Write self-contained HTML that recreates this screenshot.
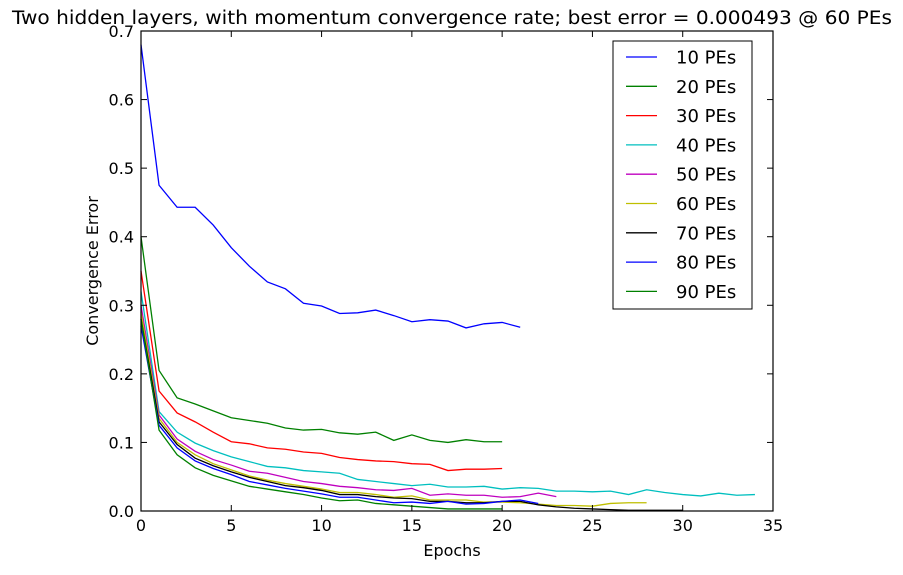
<!DOCTYPE html>
<html><head><meta charset="utf-8"><style>
body{margin:0;background:#fff}
svg text{font-family:"DejaVu Sans","Liberation Sans",sans-serif}
</style></head><body>
<svg id="chart" width="903" height="570" xmlns="http://www.w3.org/2000/svg">
<rect width="903" height="570" fill="#fff"/>
<text x="452" y="24" text-anchor="middle" font-size="18.5" textLength="880" lengthAdjust="spacingAndGlyphs">Two hidden layers, with momentum convergence rate; best error = 0.000493 @ 60 PEs</text>
<g id="plot"></g>
<text x="452" y="556" text-anchor="middle" font-size="16">Epochs</text>
<text transform="translate(98,271) rotate(-90)" text-anchor="middle" font-size="16">Convergence Error</text>
</svg>
<script>
const seriesNames=["10 PEs","20 PEs","30 PEs","40 PEs","50 PEs","60 PEs","70 PEs","80 PEs","90 PEs"];
const seriesColors=["#0000ff","#008000","#ff0000","#00bfbf","#bf00bf","#bfbf00","#000000","#0000ff","#008000"];
const s10=[0.68,0.475,0.443,0.443,0.417,0.384,0.357,0.334,0.324,0.303,0.299,0.288,0.289,0.293,0.285,0.276,0.279,0.277,0.267,0.273,0.275,0.268];
const s20=[0.40,0.205,0.165,0.156,0.146,0.136,0.132,0.128,0.121,0.118,0.119,0.114,0.112,0.115,0.103,0.111,0.103,0.100,0.104,0.101,0.101];
const s30=[0.35,0.175,0.143,0.130,0.115,0.101,0.098,0.092,0.090,0.086,0.084,0.078,0.075,0.073,0.072,0.069,0.068,0.059,0.061,0.061,0.062];
const s40=[0.32,0.145,0.115,0.099,0.088,0.079,0.072,0.065,0.063,0.059,0.057,0.055,0.046,0.043,0.040,0.037,0.039,0.035,0.035,0.036,0.032,0.034,0.033,0.029,0.029,0.028,0.029,0.024,0.031,0.027,0.024,0.022,0.026,0.023,0.024];
const s50=[0.30,0.14,0.105,0.087,0.075,0.067,0.058,0.055,0.049,0.043,0.040,0.036,0.034,0.031,0.030,0.033,0.023,0.025,0.023,0.023,0.020,0.021,0.026,0.021];
const s60=[0.29,0.135,0.100,0.082,0.069,0.060,0.051,0.045,0.040,0.036,0.032,0.027,0.027,0.024,0.020,0.022,0.016,0.016,0.016,0.013,0.013,0.012,0.010,0.008,0.008,0.007,0.011,0.012,0.012];
const s70=[0.28,0.13,0.097,0.077,0.066,0.057,0.049,0.043,0.037,0.034,0.030,0.024,0.024,0.021,0.019,0.018,0.014,0.014,0.012,0.012,0.014,0.014,0.009,0.006,0.004,0.003,0.002,0.001,0.001,0.001,0.001];
const s80=[0.27,0.125,0.092,0.073,0.062,0.053,0.043,0.038,0.033,0.029,0.025,0.020,0.020,0.016,0.012,0.013,0.011,0.014,0.010,0.011,0.014,0.016,0.011];
const s90=[0.28,0.118,0.082,0.063,0.052,0.044,0.036,0.032,0.028,0.024,0.019,0.015,0.016,0.011,0.009,0.007,0.005,0.003,0.003,0.003,0.003];
const xTicks=[0,5,10,15,20,25,30,35];
const yTicks=[0.0,0.1,0.2,0.3,0.4,0.5,0.6,0.7];
const allSeries=[s10,s20,s30,s40,s50,s60,s70,s80,s90];
const X0=141,X1=773,Y0=511,Y1=31;
const xs=v=>X0+(v-0)/(35-0)*(X1-X0);
const ys=v=>Y0-(v-0)/(0.7-0)*(Y0-Y1);
const NS="http://www.w3.org/2000/svg";
const g=document.getElementById('plot');
function mk(t,a){const e=document.createElementNS(NS,t);for(const k in a)e.setAttribute(k,a[k]);g.appendChild(e);return e;}
allSeries.forEach((s,i)=>{
  const p=mk('polyline',{points:s.map((v,j)=>xs(j)+','+ys(v)).join(' '),fill:'none',stroke:seriesColors[i],'stroke-width':1.3});
  
  
});
const frame=mk('rect',{x:X0,y:Y1,width:X1-X0,height:Y0-Y1,fill:'none',stroke:'#000','stroke-width':1.2});


xTicks.forEach(t=>{
  const x=xs(t);
  mk('line',{x1:x,x2:x,y1:Y0,y2:Y0-6,stroke:'#000'});
  mk('line',{x1:x,x2:x,y1:Y1,y2:Y1+6,stroke:'#000'});
  const tx=mk('text',{x:x,y:Y0+20,'text-anchor':'middle','font-size':16});
  tx.textContent=t;
  
  
});
yTicks.forEach(t=>{
  const y=ys(t);
  mk('line',{x1:X0,x2:X0+6,y1:y,y2:y,stroke:'#000'});
  mk('line',{x1:X1,x2:X1-6,y1:y,y2:y,stroke:'#000'});
  const tx=mk('text',{x:X0-7,y:y+6,'text-anchor':'end','font-size':16});
  tx.textContent=t.toFixed(1);
  
  
});
const lb=mk('rect',{x:613,y:41,width:139,height:268,fill:'#fff',stroke:'#000','stroke-width':1});


seriesNames.forEach((n,i)=>{
  const y=57+i*29.3;
  const l=mk('line',{x1:626,x2:657,y1:y,y2:y,stroke:seriesColors[i],'stroke-width':1.3});
  
  
  const t=mk('text',{x:676,y:y+6.5,'font-size':18});
  t.textContent=n;
  
  
});
</script>
</body></html>
